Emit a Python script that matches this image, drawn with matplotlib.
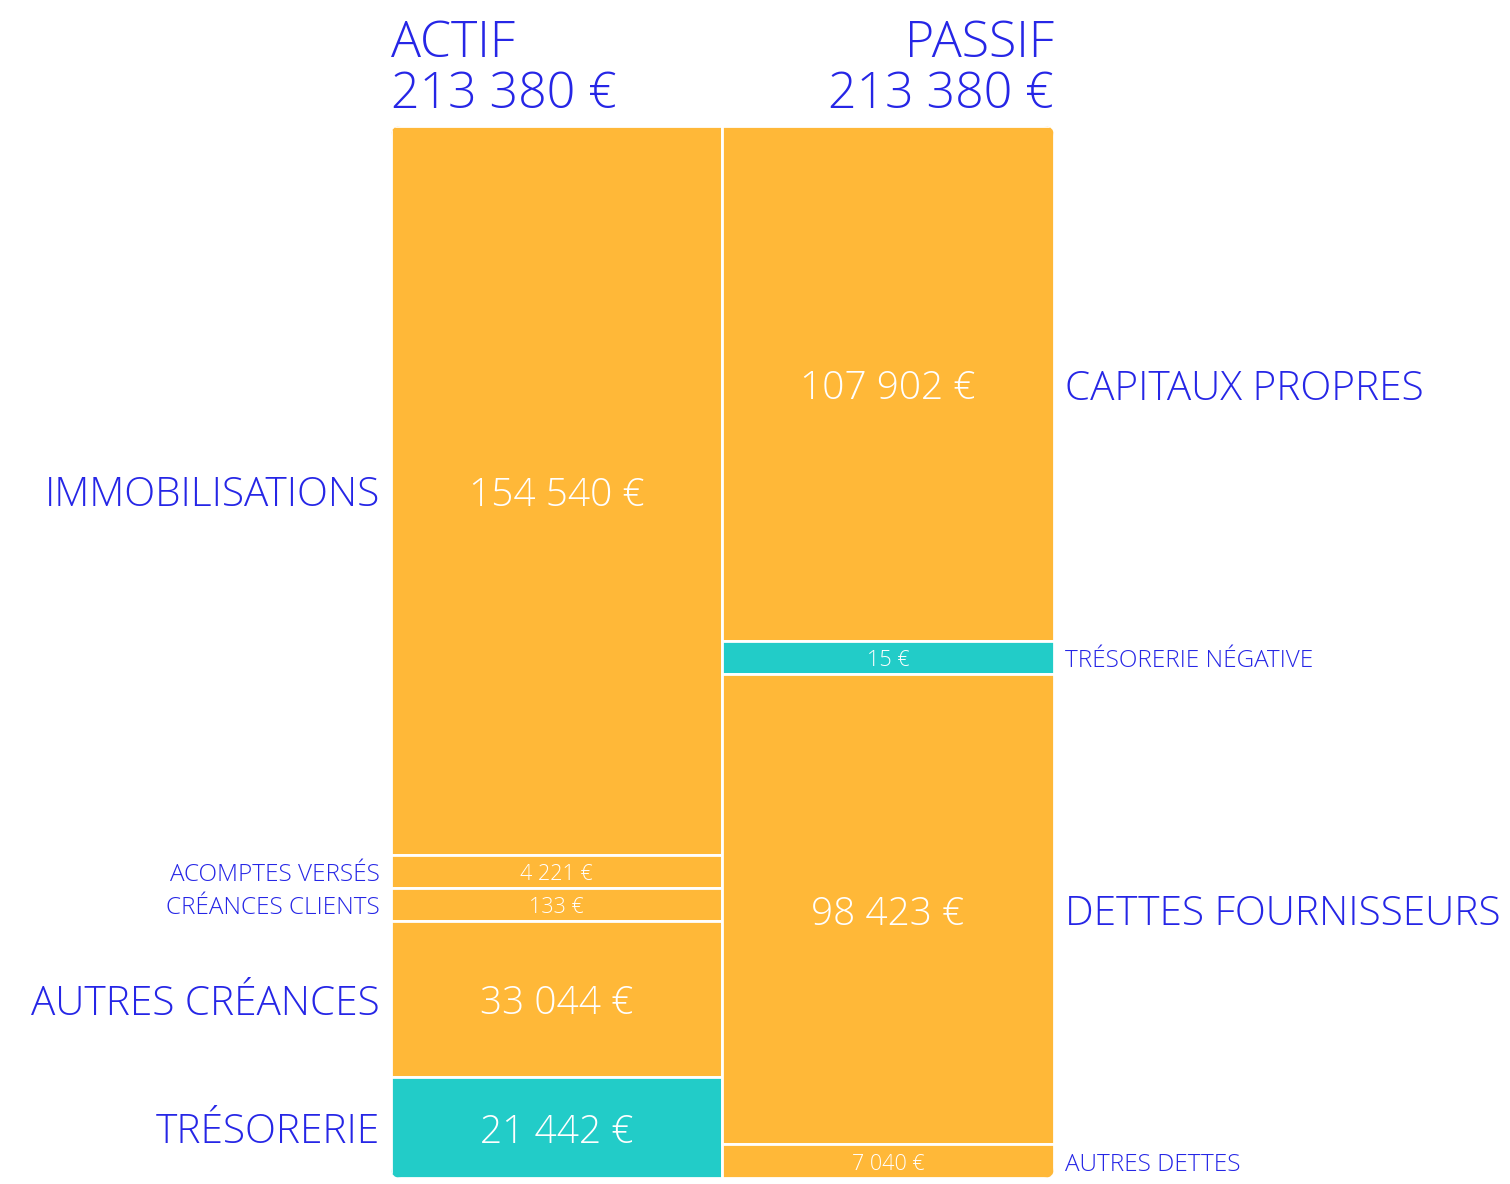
import matplotlib.pyplot as plt
from matplotlib.patches import Rectangle, FancyBboxPatch
from matplotlib import font_manager

# Data
actif_labels = ['IMMOBILISATIONS', 'ACOMPTES VERSÉS', 'CRÉANCES CLIENTS', 'AUTRES CRÉANCES', 'TRÉSORERIE']
actif_values = [154540, 4221, 133, 33044, 21442]
actif_kind = ['o', 'o', 'o', 'o', 't']

passif_labels = ['CAPITAUX PROPRES', 'TRÉSORERIE NÉGATIVE', 'DETTES FOURNISSEURS', 'AUTRES DETTES']
passif_values = [107902, 15, 98423, 7040]
passif_kind = ['o', 't', 'o', 'o']

total = 213380

ORANGE = '#FFB838'
TEAL = '#22CCC8'
BLUE = '#2626E6'

names = {f.name for f in font_manager.fontManager.ttflist}
FONT = 'Open Sans' if 'Open Sans' in names else 'DejaVu Sans'


def fmt(v):
    return f'{v:,}'.replace(',', ' ') + ' €'


def heights(values, H, hmin):
    # small items get a minimum height, the rest share what is left
    small = [v / sum(values) * H < hmin for v in values]
    rest = H - hmin * sum(small)
    big_sum = sum(v for v, s in zip(values, small) if not s)
    return [hmin if s else v / big_sum * rest for v, s in zip(values, small)]


fig = plt.figure(figsize=(15.1, 11.84), dpi=100)
ax = fig.add_axes([0, 0, 1, 1])
ax.set_xlim(0, 1510)
ax.set_ylim(1184, 0)
ax.axis('off')

top, H, hmin = 126, 1052, 33
cols = [(391, 331), (722, 332)]

clip = FancyBboxPatch((391, top), 663, H, boxstyle='round,pad=0,rounding_size=10',
                      transform=ax.transData, facecolor='none', edgecolor='none')
ax.add_patch(clip)

for ci, (labels, values, kinds) in enumerate([(actif_labels, actif_values, actif_kind),
                                              (passif_labels, passif_values, passif_kind)]):
    x0, w = cols[ci]
    hs = heights(values, H, hmin)
    y = top
    for lab, v, k, h in zip(labels, values, kinds, hs):
        r = Rectangle((x0, y), w, h, facecolor=ORANGE if k == 'o' else TEAL,
                      edgecolor='white', linewidth=2)
        ax.add_patch(r)
        r.set_clip_path(clip)
        big = h > 60
        fs_val = 28 if big else 15.5
        fs_lab = 29.2 if big else 17.5
        cy = y + h / 2 + 0.5
        ax.text(x0 + w / 2, cy, fmt(v), color='white', fontsize=fs_val, ha='center',
                va='center_baseline', family=FONT, fontweight='light')
        if ci == 0:
            ax.text(380, cy, lab, color=BLUE, fontsize=fs_lab, ha='right', va='center_baseline',
                    family=FONT, fontweight='light')
        else:
            ax.text(1065, cy, lab, color=BLUE, fontsize=fs_lab, ha='left', va='center_baseline',
                    family=FONT, fontweight='light')
        y += h

ax.text(391, 57, 'ACTIF', color=BLUE, fontsize=36, ha='left', va='baseline', family=FONT, fontweight='light')
ax.text(391, 108, fmt(total), color=BLUE, fontsize=36, ha='left', va='baseline', family=FONT, fontweight='light')
ax.text(1054, 57, 'PASSIF', color=BLUE, fontsize=36, ha='right', va='baseline', family=FONT, fontweight='light')
ax.text(1054, 108, fmt(total), color=BLUE, fontsize=36, ha='right', va='baseline', family=FONT, fontweight='light')

fig.savefig('out.png', dpi=100)
